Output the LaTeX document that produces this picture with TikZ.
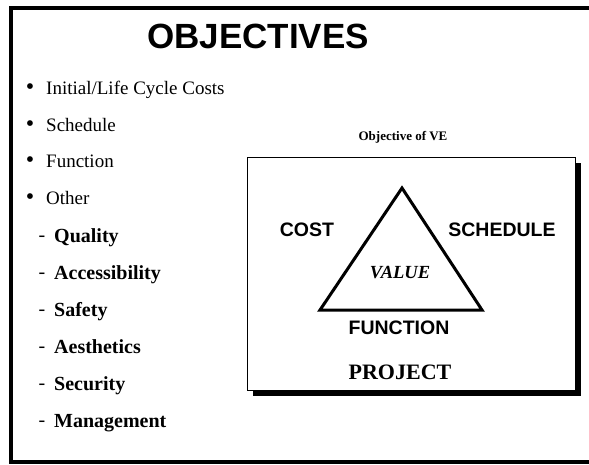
\documentclass[tikz,border=0pt]{standalone}
\usepackage{fontspec}
\setmainfont{Liberation Serif}
\setsansfont{Liberation Sans}
\begin{document}
\begin{tikzpicture}[x=1pt,y=-1pt,
  every node/.style={inner sep=0pt},
  mainitem/.style={anchor=base west,font=\fontsize{19}{24}\selectfont},
  subitem/.style={anchor=base west,font=\fontsize{20}{24}\selectfont\bfseries},
  corner/.style={font=\fontsize{19.5}{22}\selectfont\sffamily\bfseries}]
\useasboundingbox (0,0) rectangle (589,464);
% slide frame
\draw [black,line width=4pt] (592,8) -- (11,8) -- (11,462) -- (592,462);
\node (title) at (258,36) {\fontsize{35}{40}\selectfont\sffamily\bfseries OBJECTIVES};
% bullets
\foreach \y/\txt [count=\i] in {94/{Initial/Life Cycle Costs},131/Schedule,167/Function,204/Other} {
  \node (b\i) at (30,\y-5) {\fontsize{24}{24}\selectfont\textbullet};
  \node [mainitem] (m\i) at (46,\y) {\txt};
}
\foreach \y/\txt [count=\i] in {242/Quality,279/Accessibility,316/Safety,353/Aesthetics,390/Security,427/Management} {
  \node (d\i) at (42,\y-3) {\fontsize{20}{24}\selectfont -};
  \node [subitem] (s\i) at (54,\y) {\txt};
}
% VE box with shadow
\node (vetitle) at (403,137) {\fontsize{13}{15}\selectfont\bfseries Objective of VE};
\fill [black] (253,163) rectangle (581,396);
\draw [black,fill=white,line width=1pt] (247,157) rectangle (575,390);
\coordinate (apex) at (402,188);
\coordinate (bl) at (320,310);
\coordinate (br) at (482,310);
\draw [black,line width=3pt,line join=miter] (apex) -- (bl) -- (br) -- cycle;
\node [corner] (cost) at (307,230) {COST};
\node [corner] (sched) at (502,230) {SCHEDULE};
\node [corner] (func) at (399,328) {FUNCTION};
\node (value) at (400,273) {\fontsize{18.5}{20}\selectfont\bfseries\itshape VALUE};
\node (project) at (400,372) {\fontsize{22}{24}\selectfont\bfseries PROJECT};
\end{tikzpicture}
\end{document}
